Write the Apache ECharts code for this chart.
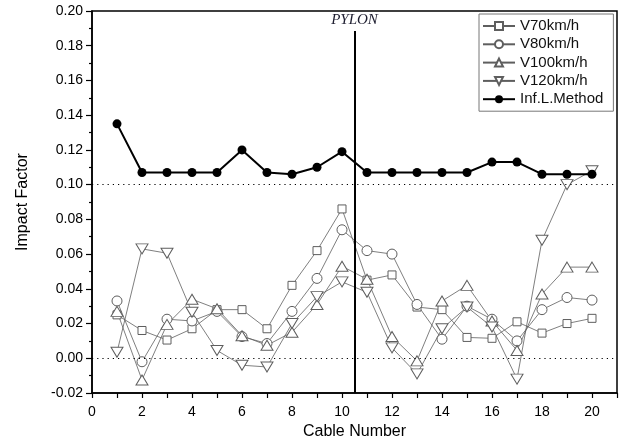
<!DOCTYPE html>
<html>
<head>
<meta charset="utf-8">
<script src="https://cdn.jsdelivr.net/npm/echarts@6/dist/echarts.min.js"></script>
<style>
  html, body { margin: 0; padding: 0; background: #fff; }
  #chart { width: 624px; height: 441px; }
</style>
</head>
<body>
<div id="chart"></div>
<script>
// Cable numbers along the deck
const cables = [1, 2, 3, 4, 5, 6, 7, 8, 9, 10, 11, 12, 13, 14, 15, 16, 17, 18, 19, 20];

// Impact factor per cable for each vehicle speed
const v70 = [0.025, 0.016, 0.0105, 0.017, 0.028, 0.028, 0.017, 0.042, 0.062, 0.086,
             0.045, 0.048, 0.0295, 0.028, 0.012, 0.0115, 0.021, 0.0145, 0.020, 0.023];
const v80 = [0.033, -0.002, 0.0225, 0.0215, 0.027, 0.0125, 0.0085, 0.027, 0.046, 0.074,
             0.062, 0.060, 0.031, 0.011, 0.030, 0.0225, 0.010, 0.028, 0.035, 0.0335];
const v100 = [0.027, -0.0125, 0.0195, 0.034, 0.0285, 0.013, 0.0075, 0.015, 0.031, 0.053,
              0.0455, 0.0125, -0.0015, 0.033, 0.042, 0.0215, 0.0045, 0.037, 0.0525, 0.0525];
const v120 = [0.0035, 0.063, 0.0605, 0.0265, 0.0045, -0.004, -0.005, 0.020, 0.0355, 0.044,
              0.038, 0.006, -0.009, 0.017, 0.0295, 0.018, -0.012, 0.068, 0.100, 0.108];
// Influence-line method
const infl = [0.135, 0.107, 0.107, 0.107, 0.107, 0.120, 0.107, 0.106, 0.110, 0.119,
              0.107, 0.107, 0.107, 0.107, 0.107, 0.113, 0.113, 0.106, 0.106, 0.106];

const seriesNames = ['V70km/h', 'V80km/h', 'V100km/h', 'V120km/h', 'Inf.L.Method'];
const pylonAt = 10.5;
const refLevels = [0.10, 0.00];

const FONT = 'Liberation Sans, Arial, sans-serif';
const GREY = '#5e5e5e';

function pairs(vals) {
  return cables.map((c, i) => [c, vals[i]]);
}

function hollow(name, vals, symbol, rotate, size) {
  return {
    name: name,
    type: 'line',
    data: pairs(vals),
    symbol: symbol,
    symbolRotate: rotate,
    symbolSize: size,
    showAllSymbol: true,
    lineStyle: { color: GREY, width: 0.8 },
    itemStyle: { color: '#fff', borderColor: GREY, borderWidth: 1 },
    emphasis: { disabled: true },
    animation: false
  };
}

const chart = echarts.init(document.getElementById('chart'), null, { renderer: 'canvas' });

chart.setOption({
  animation: false,
  backgroundColor: '#fff',
  grid: {
    left: 92, right: 7, top: 11, bottom: 48,
    outerBoundsMode: 'none',
    containLabel: false,
    show: true, borderColor: '#000', borderWidth: 1.5, backgroundColor: 'transparent'
  },
  legend: {
    orient: 'vertical',
    left: 479, top: 14,
    padding: [4, 10, 4, 3],
    itemWidth: 32, itemHeight: 10, itemGap: 2.3,
    backgroundColor: '#fff',
    borderColor: '#777', borderWidth: 1,
    textStyle: { fontFamily: FONT, fontSize: 15, lineHeight: 16, color: '#111' },
    data: seriesNames
  },
  xAxis: {
    type: 'value',
    min: 0, max: 21, interval: 1,
    name: 'Cable Number',
    nameLocation: 'middle',
    nameGap: 29,
    nameTextStyle: { fontFamily: FONT, fontSize: 16, color: '#000' },
    axisLine: { show: true, onZero: false, lineStyle: { color: '#000', width: 1.5 } },
    axisTick: { show: true, inside: false, length: 5, lineStyle: { color: '#000', width: 1.2 } },
    axisLabel: {
      fontFamily: FONT, fontSize: 14, color: '#000', margin: 12,
      formatter: v => (v % 2 === 0 && v <= 20) ? String(v) : ''
    },
    splitLine: { show: false }
  },
  yAxis: {
    type: 'value',
    min: -0.02, max: 0.20, interval: 0.02,
    name: 'Impact Factor',
    nameLocation: 'middle',
    nameGap: 61,
    nameTextStyle: { fontFamily: FONT, fontSize: 16, color: '#000' },
    axisLine: { show: true, onZero: false, lineStyle: { color: '#000', width: 1.5 } },
    axisTick: { show: true, inside: false, length: 6, lineStyle: { color: '#000', width: 1.2 } },
    minorTick: { show: true, splitNumber: 2, length: 3, lineStyle: { color: '#000', width: 1.2 } },
    axisLabel: {
      fontFamily: FONT, fontSize: 14, color: '#000', margin: 9,
      formatter: v => v.toFixed(2)
    },
    splitLine: { show: false }
  },
  series: [
    hollow(seriesNames[0], v70, 'rect', 0, 8),
    hollow(seriesNames[1], v80, 'circle', 0, 10),
    hollow(seriesNames[2], v100, 'triangle', 0, [12, 10]),
    hollow(seriesNames[3], v120, 'triangle', 180, [12, 10]),
    {
      name: seriesNames[4],
      type: 'line',
      data: pairs(infl),
      symbol: 'circle',
      symbolSize: 9,
      lineStyle: { color: '#000', width: 2 },
      itemStyle: { color: '#000' },
      emphasis: { disabled: true },
      z: 3,
      markLine: {
        silent: true,
        symbol: 'none',
        animation: false,
        data: [
          {
            yAxis: refLevels[0],
            lineStyle: { type: [1.2, 4], color: '#000', width: 1.2 },
            label: { show: false }
          },
          {
            yAxis: refLevels[1],
            lineStyle: { type: [1.2, 4], color: '#000', width: 1.2 },
            label: { show: false }
          },
          [
            {
              coord: [pylonAt, -0.02],
              lineStyle: { type: 'solid', color: '#000', width: 2 },
              label: {
                show: true, position: 'end', distance: 3,
                formatter: 'PYLON',
                fontFamily: 'Liberation Serif, Times New Roman, serif',
                fontStyle: 'italic', fontSize: 15, color: '#1c1c2e'
              }
            },
            { coord: [pylonAt, 0.1885] }
          ]
        ]
      }
    }
  ]
});
</script>
</body>
</html>
